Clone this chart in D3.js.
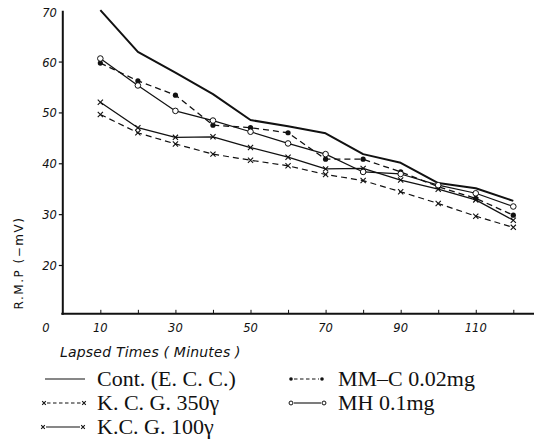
<!DOCTYPE html>
<html>
<head>
<meta charset="utf-8">
<script src="https://cdn.jsdelivr.net/npm/d3@7"></script>
<style>
  html, body { margin: 0; padding: 0; background: #fff; }
  svg { display: block; }
  .hand { font-family: "DejaVu Sans", sans-serif; font-style: italic; fill: #111; }
  .leg { font-family: "Liberation Serif", "Times New Roman", serif; fill: #111; }
</style>
</head>
<body>
<svg id="chart" width="534" height="447"></svg>
<script>
// ---- data ----
const minutes = [10, 20, 30, 40, 50, 60, 70, 80, 90, 100, 110, 120];
const control   = [70.1, 61.9, 57.8, 53.6, 48.5, 47.3, 45.9, 41.8, 40.1, 36.1, 35.1, 32.6];
const mmc002    = [59.7, 56.2, 53.4, 47.5, 47.0, 46.0, 40.8, 40.8, 38.3, 35.4, 33.1, 29.8];
const mh01      = [60.6, 55.3, 50.3, 48.4, 46.2, 43.9, 41.8, 38.3, 37.9, 35.7, 34.1, 31.5];
const kcg350    = [49.6, 46.0, 43.8, 41.8, 40.6, 39.5, 37.8, 36.6, 34.4, 32.1, 29.6, 27.4];
const kcg100    = [52.0, 47.0, 45.1, 45.2, 43.1, 41.2, 38.9, 39.0, 36.7, 34.9, 32.8, 28.8];
const yTicks = [20, 30, 40, 50, 60, 70];
const xTickMarks = [10, 20, 30, 40, 50, 60, 70, 80, 90, 100, 110, 120];
const xTickLabels = [10, 30, 50, 70, 90, 110];
const seriesNames = ["Cont. (E. C. C.)", "K. C. G. 350\u03B3", "K.C. G. 100\u03B3", "MM\u2013C 0.02mg", "MH 0.1mg"];
const yTitle = "R.M.P (\u2212mV)";
const xTitle = "Lapsed Times ( Minutes )";

// ---- styles (kept apart from data) ----
const seriesValues = [control, kcg350, kcg100, mmc002, mh01];
const styles = [
  { width: 2.0, dash: null,  marker: "none" },
  { width: 1.2, dash: "6,4", marker: "x" },
  { width: 1.3, dash: null,  marker: "x" },
  { width: 1.3, dash: "6,4", marker: "dot" },
  { width: 1.2, dash: null,  marker: "circle" }
];

const svg = d3.select("#chart");
const x = d3.scaleLinear().domain([0, 120]).range([62.8, 513.3]);
const y = d3.scaleLinear().domain([20, 70]).range([265, 10.7]);
const yBottom = 10.4;

// axes
const gx = svg.append("g").attr("transform", `translate(0,${y(yBottom)})`)
  .call(d3.axisBottom(x).tickValues(xTickMarks).tickSize(-4).tickSizeOuter(0).tickFormat(""));
gx.select(".domain").remove();
gx.selectAll(".tick line").attr("stroke", "#111").attr("stroke-width", 1);
svg.append("line").attr("x1", x(0) - 1.5).attr("x2", 534).attr("y1", y(yBottom)).attr("y2", y(yBottom))
  .attr("stroke", "#111").attr("stroke-width", 2);

const gy = svg.append("g").attr("transform", `translate(${x(0)},0)`)
  .call(d3.axisLeft(y).tickValues(yTicks.filter(d => d < 70)).tickSize(4).tickSizeOuter(0).tickFormat(""));
gy.select(".domain").remove();
gy.selectAll(".tick line").attr("stroke", "#111").attr("stroke-width", 1.2);
svg.append("line").attr("x1", x(0)).attr("x2", x(0)).attr("y1", y(70)).attr("y2", y(yBottom) + 1)
  .attr("stroke", "#111").attr("stroke-width", 2);

// y tick labels
svg.selectAll(".ylab").data(yTicks).enter().append("text")
  .attr("class", "hand").attr("x", x(0) - 6).attr("y", d => y(d) + (d === 70 ? 6 : 5))
  .attr("text-anchor", "end").attr("font-size", 11.5).text(d => d);

// x tick labels
svg.selectAll(".xlab").data(xTickLabels).enter().append("text")
  .attr("class", "hand").attr("x", d => x(d)).attr("y", y(yBottom) + 18)
  .attr("text-anchor", "middle").attr("font-size", 11.5).text(d => d);
svg.append("text").attr("class", "hand").attr("x", x(0) - 17).attr("y", y(yBottom) + 18)
  .attr("text-anchor", "middle").attr("font-size", 11.5).text("0");

// titles
svg.append("text").attr("class", "hand").attr("x", 60).attr("y", y(yBottom) + 43)
  .attr("font-size", 14).attr("letter-spacing", 0.2).text(xTitle);
svg.append("text").attr("x", 0).attr("y", 0)
  .attr("transform", `translate(23,263) rotate(-90)`)
  .attr("text-anchor", "middle").attr("font-family", "DejaVu Sans, sans-serif")
  .attr("font-size", 12).attr("letter-spacing", 1.5).attr("fill", "#111").text(yTitle);

// lines
const line = d3.line().x((d, i) => x(minutes[i])).y(d => y(d));
function drawMarker(g, type, cx, cy, k) {
  k = k || 1;
  if (type === "x") {
    const s = 2.6 * k;
    g.append("path").attr("d", `M${cx - s},${cy - s}L${cx + s},${cy + s}M${cx - s},${cy + s}L${cx + s},${cy - s}`)
      .attr("stroke", "#111").attr("stroke-width", 1.1).attr("fill", "none");
  } else if (type === "dot") {
    g.append("circle").attr("cx", cx).attr("cy", cy).attr("r", 2.6 * k).attr("fill", "#111");
  } else if (type === "circle") {
    g.append("circle").attr("cx", cx).attr("cy", cy).attr("r", 2.8 * k).attr("fill", "#fff")
      .attr("stroke", "#111").attr("stroke-width", 1.0);
  }
}
seriesValues.forEach((vals, si) => {
  const st = styles[si];
  const g = svg.append("g");
  g.append("path").datum(vals).attr("d", line).attr("fill", "none")
    .attr("stroke", "#111").attr("stroke-width", st.width)
    .attr("stroke-dasharray", st.dash).attr("stroke-linejoin", "round");
  vals.forEach((v, i) => drawMarker(g, st.marker, x(minutes[i]), y(v)));
});

// legend
const legPos = [
  { x0: 45, x1: 85, tx: 97, ty: 386 },
  { x0: 44, x1: 84, tx: 97, ty: 410 },
  { x0: 43, x1: 83, tx: 97, ty: 434 },
  { x0: 291, x1: 322, tx: 338, ty: 386 },
  { x0: 291, x1: 324, tx: 338, ty: 410 }
];
seriesNames.forEach((name, si) => {
  const p = legPos[si], st = styles[si];
  const g = svg.append("g");
  const yy = p.ty - 7;
  g.append("line").attr("x1", p.x0 + (st.marker === "none" ? 0 : 3)).attr("x2", p.x1 - (st.marker === "none" ? 0 : 3))
    .attr("y1", yy).attr("y2", yy).attr("stroke", "#111")
    .attr("stroke-width", st.marker === "none" ? 1.2 : 1.1)
    .attr("stroke-dasharray", st.dash ? "3.5,2.5" : null);
  if (st.marker !== "none") {
    drawMarker(g, st.marker, p.x0, yy, 0.7);
    drawMarker(g, st.marker, p.x1, yy, 0.7);
  }
  g.append("text").attr("class", "leg").attr("x", p.tx).attr("y", p.ty)
    .attr("font-size", 22).text(name);
});
</script>
</body>
</html>
